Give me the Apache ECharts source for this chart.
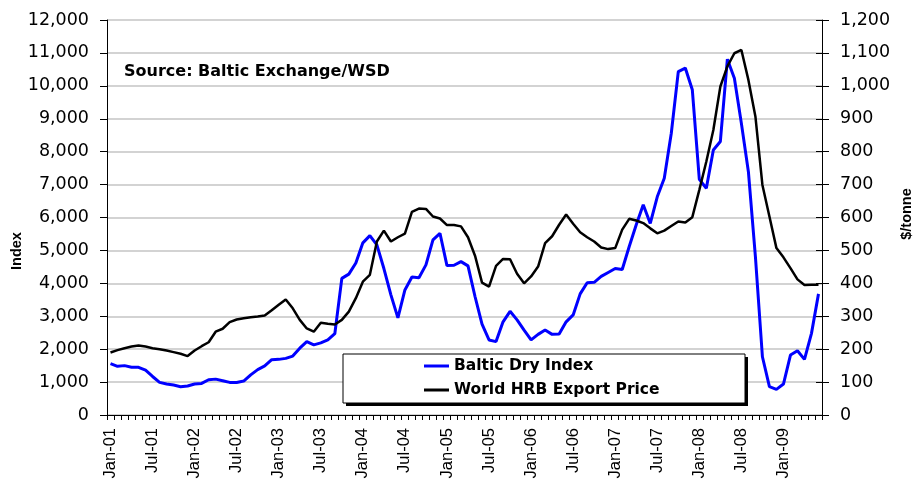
<!DOCTYPE html>
<html>
<head>
<meta charset="utf-8">
<script src="https://cdn.jsdelivr.net/npm/echarts@6/dist/echarts.min.js"></script>
<style>
  html, body { margin: 0; padding: 0; background: #fff; }
  #chart { width: 918px; height: 483px; }
</style>
</head>
<body>
<div id="chart"></div>
<script>
const MONTHS = ["Jan", "Feb", "Mar", "Apr", "May", "Jun", "Jul", "Aug", "Sep", "Oct", "Nov", "Dec"];
const YEARS = ["01", "02", "03", "04", "05", "06", "07", "08", "09"];
const MONTH_COUNT = 102; // Jan-01 .. Jun-09

// Baltic Dry Index, monthly (left axis)
const bdiValues = [
  1560, 1480, 1500, 1450, 1450, 1360, 1170, 990, 940, 910, 860, 880,
  940, 960, 1070, 1090, 1040, 990, 990, 1030, 1220, 1380, 1490, 1680,
  1690, 1720, 1790, 2030, 2230, 2130, 2190, 2280, 2470, 4150, 4280, 4620,
  5230, 5450, 5170, 4450, 3650, 2950, 3800, 4190, 4170, 4560, 5320, 5520,
  4540, 4550, 4660, 4530, 3600, 2760, 2280, 2230, 2830, 3150, 2890, 2580,
  2280, 2450, 2580, 2450, 2460, 2830, 3040, 3680, 4020, 4030, 4210, 4330,
  4450, 4420, 5120, 5780, 6390, 5820, 6630, 7190, 8560, 10430, 10540, 9880,
  7160, 6890, 8050, 8310, 10810, 10230, 8860, 7390, 4810, 1770, 860, 780,
  940, 1820, 1950, 1690, 2480, 3680
];

// World HRB export price, $/tonne (right axis)
const hrbValues = [
  190, 197, 203, 208, 211, 208, 203, 200, 196, 191, 186, 179,
  196, 209, 221, 253, 262, 282, 290, 294, 297, 299, 302, 318,
  335, 351, 324, 289, 263, 253, 280, 277, 275, 289, 314, 355,
  405, 426, 527, 560, 527, 540, 551, 617, 627, 626, 603, 597,
  577, 577, 573, 540, 484, 402, 390, 453, 474, 473, 429, 400,
  421, 451, 522, 543, 578, 609, 581, 555, 540, 527, 509, 504,
  507, 563, 596, 591, 583, 567, 552, 560, 574, 588, 585, 601,
  684, 770, 866, 998, 1059, 1099, 1109, 1018, 907, 699, 603, 507,
  479, 446, 412, 395, 396, 396
];

const SERIES_NAMES = ["Baltic Dry Index", "World HRB Export Price"];

function buildCategories() {
  const labels = [];
  YEARS.forEach((year) => {
    MONTHS.forEach((month) => {
      if (labels.length < MONTH_COUNT) {
        labels.push(`${month}-${year}`);
      }
    });
  });
  return labels;
}

function withCommas(value) {
  return Number(value).toLocaleString("en-US");
}

const chart = echarts.init(document.getElementById("chart"), null, { renderer: "canvas" });

const tickFont = { fontFamily: "DejaVu Sans", fontSize: 17.5, color: "#000" };

chart.setOption({
  animation: false,
  backgroundColor: "#fff",
  grid: { left: 107, right: 96, top: 20, bottom: 68, containLabel: false },
  legend: {
    orient: "vertical",
    left: 424,
    top: 358,
    itemWidth: 25,
    itemHeight: 3,
    itemGap: 8,
    padding: 0,
    textStyle: { fontFamily: "DejaVu Sans", fontWeight: "bold", fontSize: 15.5, color: "#000", lineHeight: 16 },
    data: [
      { name: SERIES_NAMES[0], icon: "rect", itemStyle: { color: "#0000ff" } },
      { name: SERIES_NAMES[1], icon: "rect", itemStyle: { color: "#000000" } },
    ],
    z: 20,
  },
  xAxis: {
    type: "category",
    data: buildCategories(),
    boundaryGap: true,
    axisLine: { lineStyle: { color: "#000", width: 1 } },
    axisTick: { show: true, interval: 0, length: 5, lineStyle: { color: "#000" } },
    axisLabel: {
      interval: 5,
      rotate: 90,
      margin: 13,
      fontFamily: "Liberation Sans",
      fontSize: 16.5,
      color: "#000",
    },
    splitLine: { show: false },
  },
  yAxis: [
    {
      type: "value",
      position: "left",
      min: 0,
      max: 12000,
      interval: 1000,
      axisLine: { show: true, lineStyle: { color: "#000", width: 1 } },
      axisTick: { show: true, length: 7, lineStyle: { color: "#000" } },
      axisLabel: { ...tickFont, margin: 18, formatter: withCommas },
      splitLine: { show: true, lineStyle: { color: "#c4c4c4", width: 1.5 } },
    },
    {
      type: "value",
      position: "right",
      min: 0,
      max: 1200,
      interval: 100,
      axisLine: { show: true, lineStyle: { color: "#000", width: 1 } },
      axisTick: { show: true, length: 7, lineStyle: { color: "#000" } },
      axisLabel: { ...tickFont, margin: 18, formatter: withCommas },
      splitLine: { show: false },
    },
    {
      // inner half of the crossing ticks on the right axis
      type: "value",
      position: "right",
      min: 0,
      max: 1200,
      interval: 100,
      axisLine: { show: false },
      axisTick: { show: true, inside: true, length: 6, lineStyle: { color: "#000" } },
      axisLabel: { show: false },
      splitLine: { show: false },
    },
  ],
  graphic: [
    {
      type: "text",
      left: 124,
      top: 64,
      style: {
        text: "Source: Baltic Exchange/WSD",
        fontFamily: "DejaVu Sans",
        fontWeight: "bold",
        fontSize: 16,
        fill: "#000",
      },
      z: 20,
    },
    {
      type: "text",
      x: 17,
      y: 251,
      rotation: Math.PI / 2,
      style: {
        text: "Index",
        fontFamily: "Liberation Sans",
        fontWeight: "bold",
        fontSize: 14.5,
        fill: "#000",
        align: "center",
        verticalAlign: "middle",
      },
    },
    {
      type: "text",
      x: 907,
      y: 214,
      rotation: Math.PI / 2,
      style: {
        text: "$/tonne",
        fontFamily: "Liberation Sans",
        fontWeight: "bold",
        fontSize: 14.5,
        fill: "#000",
        align: "center",
        verticalAlign: "middle",
      },
    },
    {
      type: "rect",
      shape: { x: 346, y: 357, width: 402, height: 49 },
      style: { fill: "#000" },
      z: 10,
    },
    {
      type: "rect",
      shape: { x: 343, y: 354, width: 402, height: 49 },
      style: { fill: "#fff", stroke: "#000", lineWidth: 1 },
      z: 11,
    },
  ],
  series: [
    {
      name: SERIES_NAMES[0],
      type: "line",
      yAxisIndex: 0,
      data: bdiValues,
      showSymbol: false,
      symbol: "none",
      lineStyle: { color: "#0000ff", width: 3 },
      itemStyle: { color: "#0000ff" },
      z: 3,
    },
    {
      name: SERIES_NAMES[1],
      type: "line",
      yAxisIndex: 1,
      data: hrbValues,
      showSymbol: false,
      symbol: "none",
      lineStyle: { color: "#000000", width: 2.5 },
      itemStyle: { color: "#000000" },
      z: 4,
    },
  ],
});
</script>
</body>
</html>
